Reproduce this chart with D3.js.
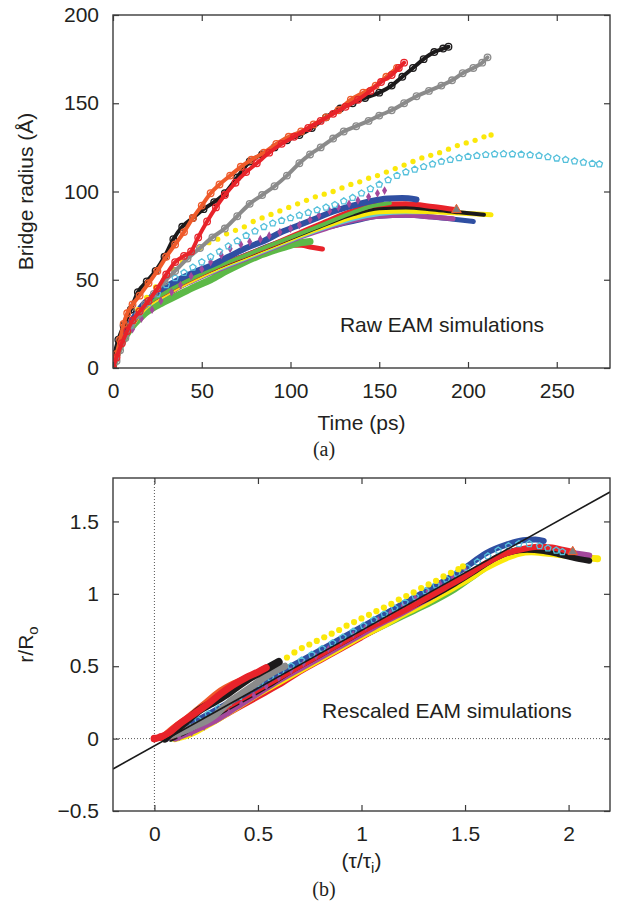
<!DOCTYPE html>
<html><head><meta charset="utf-8">
<script src="https://cdn.jsdelivr.net/npm/d3@7"></script>
<style>
body{margin:0;background:#fff}
svg{display:block}
text{font-family:"Liberation Sans",Arial,Helvetica,sans-serif;fill:#231f20}
</style>
</head><body>
<svg id="c" width="619" height="902"></svg>
<script>
// ---------------- DATA: panel (a) raw EAM simulations: [time (ps), bridge radius (Å)] ----------------
const timeDomain = [0, 280];
const radiusDomain = [0, 200];
const timeTicks = [0, 50, 100, 150, 200, 250];
const radiusTicks = [0, 50, 100, 150, 200];

const rawBlackCircles = [[0,0],[1,8],[3,16],[6,24],[10,33],[14,43],[19,49],[24,55],[29,63],[34,73],[39,80],[45,85],[51,90],[57,94],[63,99],[70,108],[77,117],[84,121],[91,125],[98,129],[105,132],[112,136],[120,142],[128,147],[135,150],[142,153],[150,156],[157,160],[163,165],[169,170],[175,175],[181,179],[186,181],[189,182]];
const rawOrangeCircles = [[0,0],[2,8],[4,16],[6,25],[8,31],[11,36],[15,41],[20,48],[25,55],[30,63],[35,70],[40,77],[45,85],[50,92],[55,99],[60,104],[66,109],[72,114],[78,118],[85,122],[92,127],[99,131],[106,134],[113,138],[120,142],[127,146],[134,152],[141,156],[148,160],[154,165],[160,170]];
const rawRedCircles = [[0,0],[2,6],[5,14],[8,21],[11,27],[15,32],[20,38],[25,45],[30,53],[35,60],[40,63.5],[44,66],[48,74],[53,83],[58,91],[63,98],[69,105],[75,111],[81,116],[88,122],[95,127],[102,131],[110,136],[117,140],[124,144],[131,148],[138,152],[145,157],[151,162],[157,166],[161,170],[164,173]];
const rawGrayCircles = [[0,0],[2,4],[4,10],[7,17],[10,24],[14,30],[18,36],[23,42],[29,49],[35,55],[42,62],[49,68],[56,74],[63,79],[70,86],[77,93],[84,98],[91,103],[98,109],[105,116],[111,121],[117,125],[124,130],[130,134],[137,137],[144,140],[150,143],[157,146],[164,150],[171,154],[178,157],[185,160],[191,163],[197,167],[203,170],[208,173],[211,176]];
const rawYellowDots = [[0,0],[2,6],[5,15],[9,24],[14,33],[19,40],[24,46],[29,51],[34,56],[39,60],[44,65],[49,68],[54,71],[59,73],[64,76],[69,78],[74,80],[79,83],[84,85],[89,87],[94,89],[99,91],[104,93],[109,95],[114,97],[119,98.5],[124,100],[129,102],[134,104],[139,105.5],[144,107.5],[149,109],[154,111],[159,113],[164,115],[169,117],[174,119],[179,120.5],[184,122],[189,124],[194,126],[199,127.5],[204,129],[209,131],[213,132]];
const rawCyanPentagons = [[0,0],[5,15],[10,24],[15,31],[20,37],[25,42],[30,47],[35,51],[40,54],[45,57],[50,60],[55,63],[60,66],[65,69],[70,72],[75,75],[80,77.5],[85,80],[90,82],[95,83.5],[100,85],[105,86.5],[110,88],[115,89.5],[120,91],[125,92.5],[130,94.5],[135,96.5],[140,99],[145,101.5],[150,104],[155,106.5],[160,109],[165,111],[170,112.5],[175,114],[180,115.5],[185,117],[190,118],[195,119],[200,119.8],[205,120.3],[210,120.8],[215,121.2],[220,121.3],[225,121.2],[230,121],[235,120.7],[240,120.3],[245,119.6],[250,118.8],[255,118],[260,117.2],[265,116.5],[270,115.8],[274,115.5]];
const rawPurpleDiamonds = [[0,0],[5,14],[11,22],[16,28],[22,33],[27,38],[33,43],[38,47],[44,52],[50,56],[55,60],[61,64],[66,67.5],[72,70],[77,71.5],[83,73],[88,75],[94,77],[100,79],[105,81],[111,84],[116,86.5],[122,89],[127,91],[133,93],[138,95],[144,97],[149,99],[153,100.5]];
const rawBlueTop = [[0,0],[1,6],[3,12],[6,19],[10,26],[17,36],[25,43],[35,49],[45,54],[55,58],[65,63],[75,68],[85,72],[95,77],[105,81],[115,85],[125,89],[135,92],[145,94.5],[155,96],[163,96.3],[171,95.5]];
const rawGreenMid = [[0,0],[3,11],[8,20],[17,34],[30,43],[45,51],[60,58],[75,64],[90,70],[105,76],[120,82],[135,88],[145,91.5],[156,93.5]];
const rawRedMid = [[0,0],[3,11],[8,20],[17,34],[30,43],[45,51],[60,58],[75,64],[90,70],[105,76.5],[120,83],[135,89],[150,92.5],[165,93],[180,91.5],[193.5,89.6]];
const rawBlackThick = [[0,0],[3,11],[8,20],[17,34],[30,43],[45,51],[60,57.5],[75,63.5],[90,69.5],[105,75.5],[120,81.5],[135,87],[150,90.5],[165,91],[180,89.8],[195,88.2],[209,86.8]];
const rawYellowThick = [[0,0],[3,11],[8,20],[17,33],[30,42],[45,50],[60,57],[75,63],[90,69],[105,75],[120,80.5],[135,85.5],[150,88.5],[165,89],[180,88.5],[195,87.8],[213,86.8]];
const rawCyanThick = [[0,0],[3,11],[8,20],[17,33],[30,42],[45,50],[60,56.5],[75,62.5],[90,68.5],[105,74.5],[120,80],[135,84.5],[150,87.5],[165,88.5],[176.5,88.5]];
const rawMagentaThick = [[0,0],[3,11],[8,20],[17,33],[30,42],[45,49.5],[60,56],[75,62],[90,68],[105,74],[120,79],[135,83.5],[150,86],[165,86.5],[180,85.5],[191.6,84.6]];
const rawBlueLow = [[0,0],[3,11],[8,20],[17,33],[30,43],[45,51],[60,58],[75,64],[90,70],[105,75],[120,79.5],[135,83],[150,86],[165,86.5],[180,85.5],[192,84.3],[203,83]];
const rawGreenLow = [[0,0],[2,7],[5,14],[9,21],[17,30],[26,36],[36,41],[46,46],[55,50],[64,55],[73,59.5],[82,63.5],[92,67],[100,69.5],[106,71],[111,71.7]];
const rawRedLow = [[0,0],[2,7],[5,14],[9,22],[17,32],[26,39],[36,45],[46,50.5],[55,54.5],[64,58.5],[73,62],[82,65],[92,68],[100,69.5],[106,69.5],[112,68.4],[118,67.4]];

// ---------------- DATA: panel (b) rescaled: [tau/tau_i, r/R0] ----------------
const tauDomain = [-0.2, 2.2];
const ratioDomain = [-0.5, 1.8];
const tauTicks = [0, 0.5, 1, 1.5, 2];
const ratioTicks = [-0.5, 0, 0.5, 1, 1.5];
const fitSlope = 0.797;
const fitIntercept = -0.05;

const scaledBlack = [[0.05,0],[0.08,0.04],[0.12,0.08],[0.17,0.14],[0.22,0.2],[0.27,0.24],[0.33,0.29],[0.39,0.35],[0.45,0.41],[0.5,0.45],[0.55,0.49],[0.6,0.53]];
const scaledRed = [[0,0],[0.03,0.01],[0.07,0.04],[0.12,0.1],[0.18,0.16],[0.25,0.23],[0.32,0.31],[0.38,0.37],[0.44,0.42],[0.5,0.46],[0.54,0.49]];
const scaledOrange = [[0.05,0.02],[0.1,0.08],[0.15,0.13],[0.2,0.19],[0.26,0.26],[0.32,0.33],[0.37,0.37],[0.42,0.4],[0.47,0.43]];
const scaledGray = [[0.08,0.02],[0.14,0.05],[0.2,0.09],[0.26,0.13],[0.3,0.17],[0.36,0.25],[0.42,0.31],[0.48,0.37],[0.54,0.43],[0.6,0.48],[0.63,0.5]];
const scaledYellowDots = [[0.64,0.56],[0.676,0.595],[0.712,0.625],[0.748,0.65],[0.784,0.675],[0.82,0.7],[0.856,0.725],[0.892,0.75],[0.928,0.78],[0.964,0.805],[1.0,0.83],[1.036,0.855],[1.072,0.88],[1.108,0.905],[1.144,0.93],[1.18,0.96],[1.216,0.985],[1.252,1.01],[1.288,1.04],[1.324,1.065],[1.36,1.09],[1.396,1.12],[1.432,1.145],[1.468,1.17],[1.49,1.19]];
const scaledYellowThick = [[0.1,0],[0.15,0.02],[0.2,0.05],[0.25,0.09],[0.3,0.13],[0.4,0.22],[0.5,0.31],[0.6,0.39],[0.7,0.47],[0.8,0.55],[0.9,0.63],[1.0,0.71],[1.1,0.78],[1.2,0.86],[1.3,0.93],[1.4,1.01],[1.5,1.09],[1.6,1.18],[1.7,1.25],[1.76,1.28],[1.82,1.29],[1.9,1.28],[2.0,1.265],[2.08,1.25],[2.14,1.243]];
const scaledGreen = [[0.08,0],[0.15,0.04],[0.25,0.12],[0.35,0.2],[0.45,0.28],[0.55,0.36],[0.65,0.44],[0.75,0.52],[0.85,0.6],[0.95,0.67],[1.05,0.74],[1.15,0.81],[1.25,0.88],[1.35,0.95],[1.45,1.03],[1.55,1.13],[1.65,1.23],[1.72,1.29],[1.78,1.31]];
const scaledMagenta = [[0.1,0],[0.2,0.06],[0.3,0.13],[0.4,0.22],[0.5,0.31],[0.6,0.4],[0.7,0.48],[0.8,0.56],[0.9,0.64],[1.0,0.72],[1.1,0.8],[1.2,0.87],[1.3,0.95],[1.4,1.03],[1.5,1.12],[1.6,1.21],[1.7,1.28],[1.8,1.31],[1.9,1.3],[2.0,1.285],[2.1,1.265]];
const scaledRedThick = [[0.06,0],[0.1,0.03],[0.2,0.1],[0.3,0.18],[0.4,0.26],[0.5,0.34],[0.6,0.42],[0.7,0.5],[0.8,0.58],[0.9,0.66],[1.0,0.74],[1.1,0.81],[1.2,0.88],[1.3,0.96],[1.4,1.04],[1.5,1.12],[1.6,1.21],[1.7,1.28],[1.78,1.31],[1.85,1.325],[1.92,1.32],[1.97,1.305],[2.02,1.29]];
const scaledBlackThick = [[0.08,0],[0.15,0.05],[0.25,0.13],[0.35,0.21],[0.45,0.29],[0.55,0.37],[0.65,0.46],[0.75,0.54],[0.85,0.62],[0.95,0.7],[1.05,0.78],[1.15,0.85],[1.25,0.92],[1.35,0.99],[1.45,1.07],[1.55,1.16],[1.65,1.25],[1.72,1.29],[1.8,1.305],[1.88,1.295],[1.95,1.275],[2.02,1.25],[2.1,1.228]];
const scaledBlue = [[0.06,0],[0.1,0.04],[0.2,0.12],[0.3,0.2],[0.4,0.28],[0.5,0.36],[0.6,0.45],[0.7,0.53],[0.8,0.61],[0.9,0.69],[1.0,0.77],[1.1,0.85],[1.2,0.93],[1.3,1.01],[1.4,1.09],[1.5,1.18],[1.6,1.28],[1.7,1.34],[1.78,1.37],[1.84,1.375],[1.88,1.365]];
const scaledRedLow = [[0.3,0.13],[0.4,0.21],[0.5,0.29],[0.6,0.37],[0.7,0.46],[0.8,0.54],[0.9,0.62],[1.0,0.7],[1.1,0.78]];
const scaledCyanPentagons = [[0.06,0.01],[0.11,0.05],[0.16,0.09],[0.21,0.13],[0.26,0.17],[0.31,0.21],[0.36,0.25],[0.41,0.29],[0.46,0.34],[0.51,0.38],[0.56,0.42],[0.61,0.46],[0.66,0.5],[0.71,0.54],[0.76,0.58],[0.81,0.62],[0.86,0.66],[0.91,0.7],[0.96,0.74],[1.01,0.78],[1.06,0.82],[1.11,0.86],[1.16,0.9],[1.21,0.94],[1.26,0.98],[1.31,1.02],[1.36,1.06],[1.41,1.1],[1.46,1.14],[1.51,1.18],[1.56,1.22],[1.61,1.26],[1.66,1.3],[1.71,1.33],[1.76,1.345],[1.81,1.345],[1.86,1.33],[1.9,1.315],[1.94,1.3],[1.97,1.29]];
const scaledPurpleDiamonds = [[0.12,0.01],[0.18,0.04],[0.24,0.08],[0.3,0.13],[0.36,0.18],[0.42,0.24],[0.48,0.3],[0.54,0.36],[0.6,0.42],[0.66,0.47],[0.72,0.52],[0.78,0.57],[0.84,0.62],[0.9,0.67],[0.96,0.72],[1.02,0.77],[1.08,0.82],[1.14,0.87],[1.2,0.92],[1.26,0.97],[1.32,1.02],[1.38,1.07],[1.44,1.12],[1.5,1.17]];

// ---------------- COLOURS ----------------
const C = {black:"#1c1a1b", red:"#e8232a", orange:"#ef5b2b", gray:"#8b8b8b", yellow:"#fbe80a",
  cyan:"#55c0db", cyanThick:"#63c7d9", purple:"#a4489c", blue:"#2f4fa2", green:"#5db947", frame:"#3b3b3b"};

// ---------------- DRAWING ----------------
const svg = d3.select("#c");
const A = {l:113, r:610, t:15, b:368};
const B = {l:113, r:610, t:478, b:811};
const xA = d3.scaleLinear().domain(timeDomain).range([A.l, A.r]);
const yA = d3.scaleLinear().domain(radiusDomain).range([A.b, A.t]);
const xB = d3.scaleLinear().domain(tauDomain).range([B.l, B.r]);
const yB = d3.scaleLinear().domain(ratioDomain).range([B.b, B.t]);

const defs = svg.append("defs");
[["clipA",A],["clipB",B]].forEach(([id,P]) => defs.append("clipPath").attr("id",id).append("rect")
  .attr("x",P.l).attr("y",P.t).attr("width",P.r-P.l).attr("height",P.b-P.t));

const pentagon = { draw(ctx, size){ const r = Math.sqrt(size/2.378);
  for(let i=0;i<5;i++){ const a=-Math.PI/2+i*2*Math.PI/5; const px=r*Math.cos(a), py=r*Math.sin(a); i?ctx.lineTo(px,py):ctx.moveTo(px,py);} ctx.closePath(); } };

function thick(g, data, x, y, color, w){
  g.append("path").datum(data).attr("fill","none").attr("stroke",color).attr("stroke-width",w)
    .attr("stroke-linecap","round").attr("stroke-linejoin","round")
    .attr("d", d3.line().x(d=>x(d[0])).y(d=>y(d[1])).curve(d3.curveMonotoneX));
}
function rings(g, data, x, y, color, w){
  thick(g, data, x, y, color, w);
  g.append("g").selectAll("circle").data(data).join("circle")
    .attr("cx",d=>x(d[0])).attr("cy",d=>y(d[1])).attr("r",3.3)
    .attr("fill","none").attr("stroke",color).attr("stroke-width",1.3);
}
function symbols(g, data, x, y, type, size, fill, stroke, sw){
  g.append("g").selectAll("path").data(data).join("path")
    .attr("transform",d=>`translate(${x(d[0])},${y(d[1])})`)
    .attr("d", d3.symbol().type(type).size(size))
    .attr("fill",fill).attr("stroke",stroke).attr("stroke-width",sw||0);
}

function axes(P, x, y, xt, yt, fmt){
  const g = svg.append("g");
  const style = sel => { sel.attr("font-size",21).attr("font-family","Liberation Sans, Arial, sans-serif");
    sel.select(".domain").remove(); sel.selectAll(".tick line").attr("stroke",C.frame).attr("stroke-width",1.2); };
  g.append("g").attr("transform",`translate(0,${P.b})`)
    .call(d3.axisBottom(x).tickValues(xt).tickSize(-6).tickSizeOuter(0).tickPadding(15).tickFormat(fmt)).call(style);
  g.append("g").attr("transform",`translate(0,${P.t})`)
    .call(d3.axisTop(x).tickValues(xt).tickSize(-6).tickSizeOuter(0).tickFormat("")).call(style);
  g.append("g").attr("transform",`translate(${P.l},0)`)
    .call(d3.axisLeft(y).tickValues(yt).tickSize(-6).tickSizeOuter(0).tickPadding(14).tickFormat(fmt)).call(style);
  g.append("g").attr("transform",`translate(${P.r},0)`)
    .call(d3.axisRight(y).tickValues(yt).tickSize(-6).tickSizeOuter(0).tickFormat("")).call(style);
  g.append("rect").attr("x",P.l).attr("y",P.t).attr("width",P.r-P.l).attr("height",P.b-P.t)
    .attr("fill","none").attr("stroke",C.frame).attr("stroke-width",1.4);
}
const fmt = d => d < 0 ? "\u2212" + (-d) : String(d);

// ----- panel (a) -----
const gA = svg.append("g").attr("clip-path","url(#clipA)");
thick(gA, rawRedLow, xA, yA, C.red, 5);
thick(gA, rawGreenLow, xA, yA, C.green, 7);
thick(gA, rawBlueLow, xA, yA, C.blue, 5);
thick(gA, rawMagentaThick, xA, yA, C.purple, 5);
thick(gA, rawCyanThick, xA, yA, C.cyanThick, 5);
thick(gA, rawYellowThick, xA, yA, C.yellow, 5);
thick(gA, rawBlackThick, xA, yA, C.black, 4);
thick(gA, rawRedMid, xA, yA, C.red, 5);
thick(gA, rawGreenMid, xA, yA, C.green, 4);
thick(gA, rawBlueTop, xA, yA, C.blue, 6);
symbols(gA, [rawRedMid[rawRedMid.length-1]], xA, yA, d3.symbolTriangle, 40, "#7d7d7d", C.orange, 1);
symbols(gA, rawPurpleDiamonds, xA, yA, d3.symbolDiamond, 22, C.purple, "none");
symbols(gA, rawCyanPentagons, xA, yA, pentagon, 26, "none", C.cyan, 1.3);
symbols(gA, rawYellowDots, xA, yA, d3.symbolCircle, 22, C.yellow, "none");
rings(gA, rawGrayCircles, xA, yA, C.gray, 4);
rings(gA, rawBlackCircles, xA, yA, C.black, 4);
rings(gA, rawOrangeCircles, xA, yA, C.orange, 4);
rings(gA, rawRedCircles, xA, yA, C.red, 4);
axes(A, xA, yA, timeTicks, radiusTicks, fmt);

svg.append("text").attr("x",442).attr("y",332).attr("text-anchor","middle").attr("font-size",21).text("Raw EAM simulations");
svg.append("text").attr("x",(A.l+A.r)/2).attr("y",430).attr("text-anchor","middle").attr("font-size",21).text("Time (ps)");
svg.append("text").attr("transform",`translate(33,${(A.t+A.b)/2}) rotate(-90)`).attr("text-anchor","middle").attr("font-size",21).text("Bridge radius (Å)");
svg.append("text").attr("x",324).attr("y",456).attr("text-anchor","middle").attr("font-size",20)
  .style("font-family","'Liberation Serif','DejaVu Serif',serif").text("(a)");

// ----- panel (b) -----
const gB = svg.append("g").attr("clip-path","url(#clipB)");
gB.append("line").attr("x1",xB(0)).attr("x2",xB(0)).attr("y1",B.t).attr("y2",B.b)
  .attr("stroke","#444").attr("stroke-width",0.9).attr("stroke-dasharray","1,2");
gB.append("line").attr("x1",B.l).attr("x2",B.r).attr("y1",yB(0)).attr("y2",yB(0))
  .attr("stroke","#444").attr("stroke-width",0.9).attr("stroke-dasharray","1,2");
thick(gB, scaledGreen, xB, yB, C.green, 6);
thick(gB, scaledRedLow, xB, yB, C.red, 6);
thick(gB, scaledYellowThick, xB, yB, C.yellow, 7);
thick(gB, scaledMagenta, xB, yB, C.purple, 6);
thick(gB, scaledBlackThick, xB, yB, C.black, 6);
thick(gB, scaledRedThick, xB, yB, C.red, 6);
thick(gB, scaledBlue, xB, yB, C.blue, 6);
symbols(gB, [scaledRedThick[scaledRedThick.length-1]], xB, yB, d3.symbolTriangle, 40, "#7d7d7d", C.orange, 1);
symbols(gB, scaledPurpleDiamonds, xB, yB, d3.symbolDiamond, 18, C.purple, "none");
symbols(gB, scaledCyanPentagons, xB, yB, pentagon, 26, "none", C.cyan, 1.3);
symbols(gB, scaledYellowDots, xB, yB, d3.symbolCircle, 30, C.yellow, "none");
thick(gB, scaledGray, xB, yB, C.gray, 7);
thick(gB, scaledOrange, xB, yB, C.orange, 7);
thick(gB, scaledBlack, xB, yB, C.black, 8);
thick(gB, scaledRed, xB, yB, C.red, 7);
symbols(gB, scaledRed.slice(0,2), xB, yB, d3.symbolCircle, 30, "none", C.red, 1.5);
gB.append("line").attr("x1",xB(tauDomain[0])).attr("y1",yB(fitIntercept+fitSlope*tauDomain[0]))
  .attr("x2",xB(tauDomain[1])).attr("y2",yB(fitIntercept+fitSlope*tauDomain[1]))
  .attr("stroke","#1a1a1a").attr("stroke-width",1.6);
axes(B, xB, yB, tauTicks, ratioTicks, fmt);

svg.append("text").attr("x",447).attr("y",718).attr("text-anchor","middle").attr("font-size",21).text("Rescaled EAM simulations");
const tx = svg.append("text").attr("x",(B.l+B.r)/2).attr("y",868).attr("text-anchor","middle").attr("font-size",21);
tx.append("tspan").text("(\u03C4/\u03C4");
tx.append("tspan").attr("font-size",15).attr("dy",5).text("i");
tx.append("tspan").attr("dy",-5).text(")");
const ty = svg.append("text").attr("transform",`translate(33,${(B.t+B.b)/2}) rotate(-90)`).attr("text-anchor","middle").attr("font-size",21);
ty.append("tspan").text("r/R");
ty.append("tspan").attr("font-size",15).attr("dy",5).text("o");
svg.append("text").attr("x",324).attr("y",896).attr("text-anchor","middle").attr("font-size",20)
  .style("font-family","'Liberation Serif','DejaVu Serif',serif").text("(b)");
</script>
</body></html>
